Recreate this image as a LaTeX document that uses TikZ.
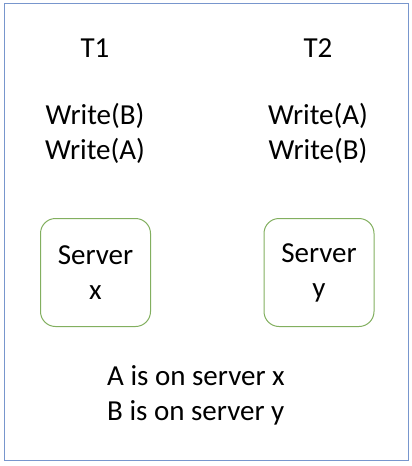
\documentclass[tikz,border=0pt]{standalone}
\usepackage{fontspec}
\setmainfont{Carlito}
\usetikzlibrary{positioning}
\definecolor{srvgreen}{RGB}{130,175,95}
\definecolor{framblue}{RGB}{120,150,205}

\begin{document}
\begin{tikzpicture}[
    x=1pt, y=-1pt,
    every node/.style={
        inner sep=0pt,
        align=center,
        font=\fontsize{29}{35}\selectfont
    },
    server/.style={
        draw=srvgreen,
        line width=1pt,
        rounded corners=15pt,
        minimum width=110pt,
        minimum height=108pt
    },
    frame/.style={draw=framblue, line width=1pt}
]

% Outer frame
\draw[frame] (4,3) rectangle (408,460);
\useasboundingbox (0,0) rectangle (412,466);

% Transactions
\node (t1) at (95,48) {T1};
\node (t2) at (318,48) {T2};
\node (ops1) at (95,133) {Write(B)\\Write(A)};
\node (ops2) at (318,133) {Write(A)\\Write(B)};

% Servers
\node[server] (srvx) at (95.5,272.5) {Server\\x};
\node[server] (srvy) at (319,272.5) {Server\\y};

% Placement note
\node[align=left] (note) at (196,395) {A is on server x\\B is on server y};

\end{tikzpicture}
\end{document}
